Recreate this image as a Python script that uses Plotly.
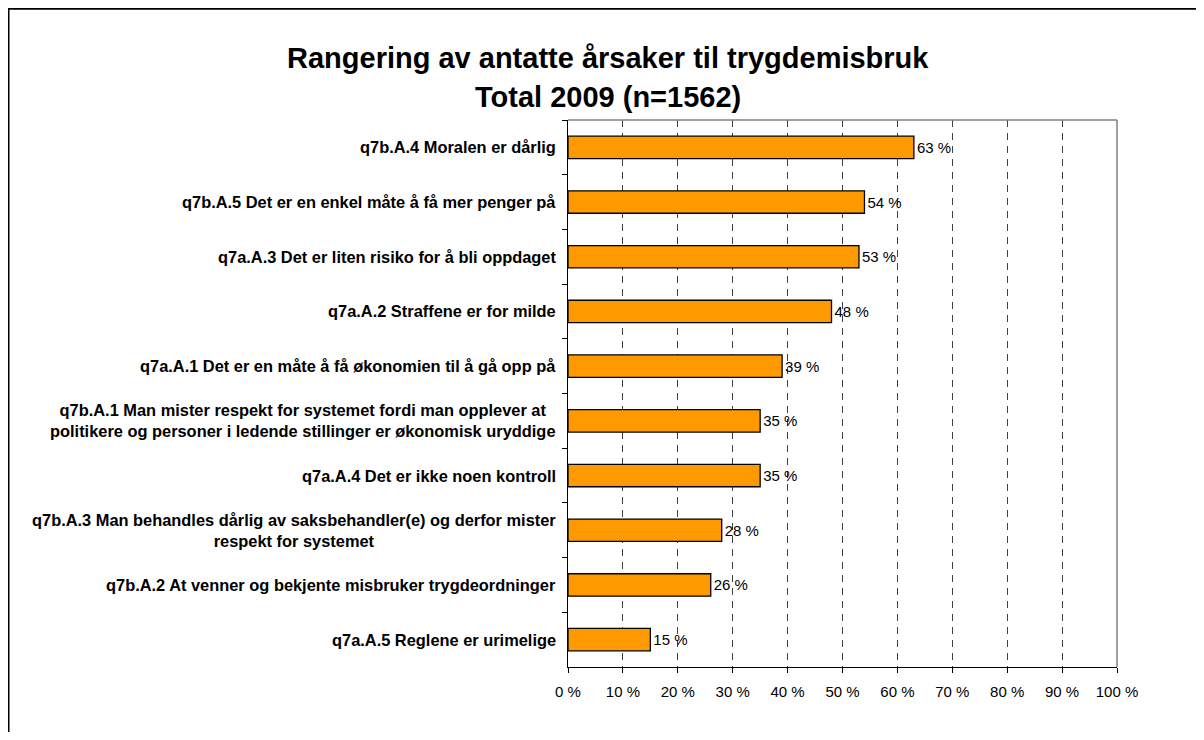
import plotly.graph_objects as go

categories = [
    "q7b.A.4 Moralen er dårlig",
    "q7b.A.5 Det er en enkel måte å få mer penger på",
    "q7a.A.3 Det er liten risiko for å bli oppdaget",
    "q7a.A.2 Straffene er for milde",
    "q7a.A.1 Det er en måte å få økonomien til å gå opp på",
    "q7b.A.1 Man mister respekt for systemet fordi man opplever at<br>politikere og personer i ledende stillinger er økonomisk uryddige",
    "q7a.A.4 Det er ikke noen kontroll",
    "q7b.A.3 Man behandles dårlig av saksbehandler(e) og derfor mister<br>respekt for systemet",
    "q7b.A.2 At venner og bekjente misbruker trygdeordninger",
    "q7a.A.5 Reglene er urimelige",
]
values = [63, 54, 53, 48, 39, 35, 35, 28, 26, 15]
tick_vals = [0, 10, 20, 30, 40, 50, 60, 70, 80, 90, 100]
tick_text = [f"{v} %" for v in tick_vals]
title_lines = ["Rangering av antatte årsaker til trygdemisbruk", "Total 2009 (n=1562)"]

FONT = "Liberation Sans, Arial, sans-serif"
# page body has an 8px margin; figure coordinates are page coordinates minus 8
W, H = 1188, 724
L, R, T, B = 560, 1109, 112, 659
pw, ph = R - L, B - T


def px_x(p):
    return (p - L) / pw


def px_y(p):
    return (B - p) / ph


fig = go.Figure(go.Bar(
    x=values, y=categories, orientation="h",
    marker=dict(color="#FF9900", line=dict(color="black", width=1.3)),
    text=[f"{v} %" for v in values], textposition="outside",
    textfont=dict(family=FONT, size=15, color="black"),
    constraintext="none", cliponaxis=False, width=0.41,
))

annotations = []
for c in categories:
    annotations.append(dict(
        x=px_x(550), xref="paper", y=c, yref="y", text=c, showarrow=False,
        xanchor="right", yanchor="middle", align="center",
        font=dict(family=FONT, size=16.4, color="black", weight="bold"),
    ))
for text, cy in zip(title_lines, [50, 89]):
    annotations.append(dict(x=px_x(600), y=px_y(cy), xref="paper", yref="paper", text=text,
                            showarrow=False, xanchor="center", yanchor="middle",
                            font=dict(family=FONT, size=29, color="black", weight="bold")))

shapes = [
    dict(type="line", xref="paper", yref="paper", x0=px_x(0), x1=px_x(W), y0=px_y(0.5), y1=px_y(0.5),
         line=dict(color="black", width=2.5)),
    dict(type="line", xref="paper", yref="paper", x0=px_x(0), x1=px_x(0), y0=px_y(0), y1=px_y(H),
         line=dict(color="black", width=3)),
    dict(type="line", xref="paper", yref="paper", x0=0, x1=1, y0=1, y1=1, line=dict(color="#808080", width=1.5)),
    dict(type="line", xref="paper", yref="paper", x0=1, x1=1, y0=0, y1=1, line=dict(color="#808080", width=1.5)),
]

fig.update_layout(
    width=W, height=H,
    margin=dict(l=L, r=W - R, t=T, b=H - B, pad=0),
    paper_bgcolor="white", plot_bgcolor="white",
    showlegend=False,
    annotations=annotations, shapes=shapes,
    xaxis=dict(range=[0, 100], tickvals=tick_vals, ticktext=tick_text,
               showgrid=True, gridcolor="#404040", griddash="7px,6px", gridwidth=1,
               showline=True, linecolor="black", linewidth=1.3,
               ticks="outside", ticklen=5, tickcolor="black", ticklabelstandoff=6,
               tickfont=dict(family=FONT, size=15, color="black"), zeroline=False, fixedrange=True),
    yaxis=dict(autorange="reversed", showticklabels=False, showgrid=False,
               showline=True, linecolor="black", linewidth=1.3,
               ticks="outside", ticklen=5, tickcolor="black", tickson="boundaries"),
)

fig.write_html("out.html")
